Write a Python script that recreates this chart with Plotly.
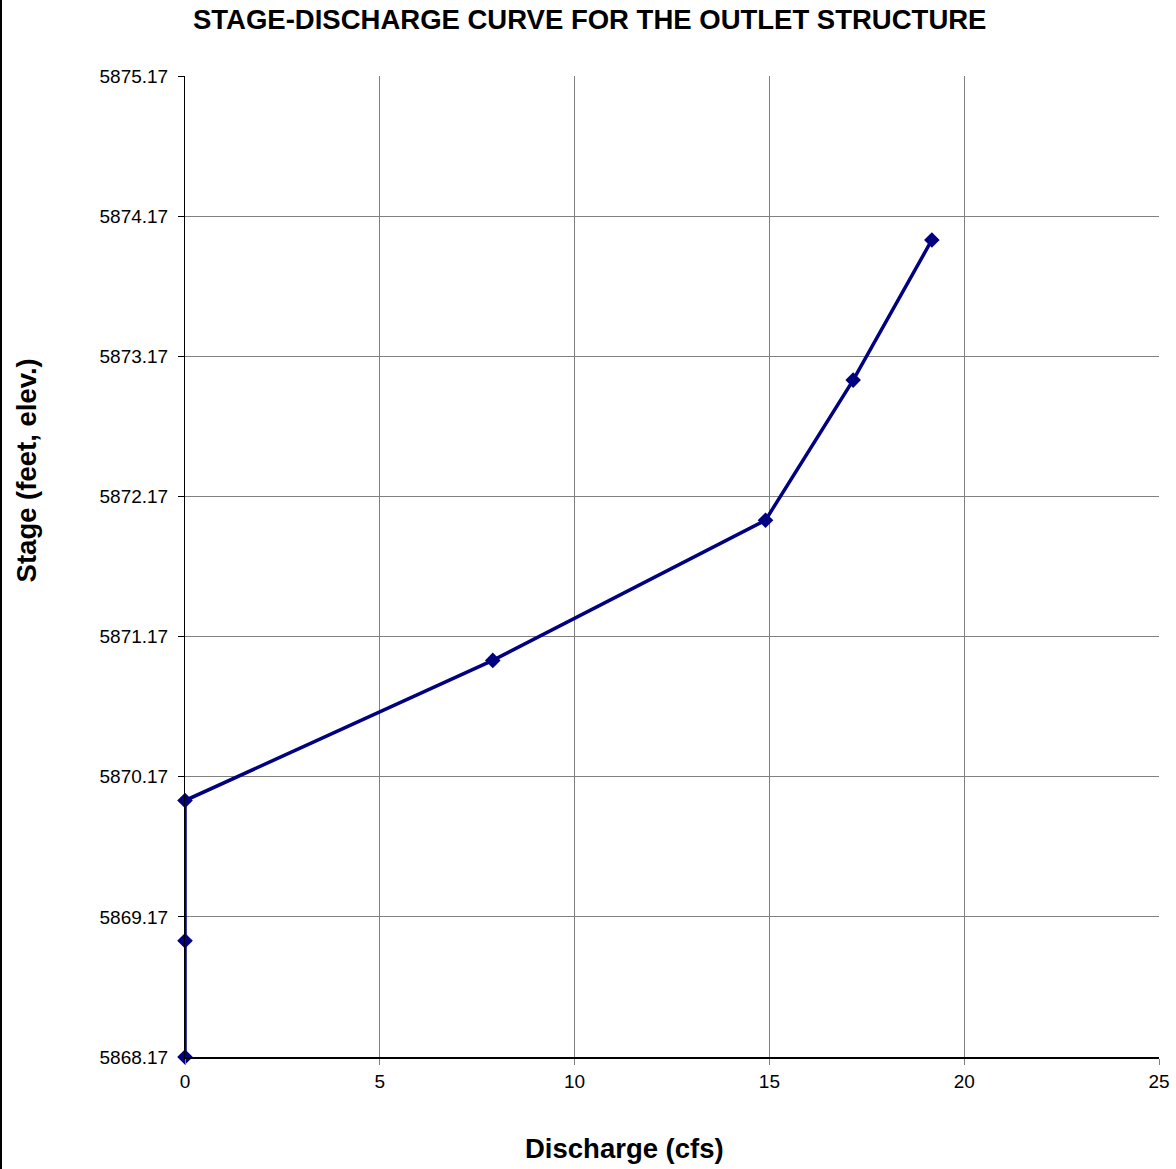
import plotly.graph_objects as go

discharge = [0, 0, 0, 7.9, 14.9, 17.15, 19.17]
stage = [5868.17, 5869.0, 5870.0, 5871.0, 5872.0, 5873.0, 5874.0]

y_ticks = [5868.17, 5869.17, 5870.17, 5871.17, 5872.17, 5873.17, 5874.17, 5875.17]
x_ticks = [0, 5, 10, 15, 20, 25]

navy = "#000080"
font_family = "Liberation Sans, Arial, sans-serif"

fig = go.Figure(go.Scatter(
    x=discharge, y=stage,
    mode="lines+markers",
    line=dict(color=navy, width=3.5),
    marker=dict(symbol="diamond", size=12, color=navy),
    cliponaxis=False,
))

fig.update_layout(
    width=1176, height=1169,
    margin=dict(l=185, r=17, t=76, b=112),
    paper_bgcolor="white", plot_bgcolor="white",
    font=dict(family=font_family, color="black", size=19),
    showlegend=False,
)

fig.update_xaxes(
    range=[0, 25], tickvals=x_ticks, ticktext=[str(v) for v in x_ticks],
    showgrid=True, gridcolor="#808080", gridwidth=1,
    showline=True, linecolor="black", linewidth=2,
    ticks="outside", ticklen=6, tickcolor="#808080",
    zeroline=False, automargin=False,
)
fig.update_yaxes(
    range=[5868.17, 5875.17], tickvals=y_ticks, ticktext=["%.2f" % v for v in y_ticks],
    showgrid=True, gridcolor="#808080", gridwidth=1,
    showline=True, linecolor="black", linewidth=1,
    ticks="outside", ticklen=6, tickcolor="black",
    ticklabelstandoff=6,
    zeroline=False, automargin=False,
)

# titles placed like the Excel chart (centred on the chart area, not the plot area)
fig.add_annotation(text="<b>STAGE-DISCHARGE CURVE FOR THE OUTLET STRUCTURE</b>",
                   xref="paper", yref="paper", x=0.4158, y=1.0571,
                   xanchor="center", yanchor="middle", showarrow=False,
                   font=dict(size=27.5))
fig.add_annotation(text="<b>Discharge (cfs)</b>",
                   xref="paper", yref="paper", x=0.4517, y=-0.0928,
                   xanchor="center", yanchor="middle", showarrow=False,
                   font=dict(size=27.5))
fig.add_annotation(text="<b>Stage (feet, elev.)</b>", textangle=-90,
                   xref="paper", yref="paper", x=-0.1632, y=0.598,
                   xanchor="center", yanchor="middle", showarrow=False,
                   font=dict(size=27.5))

# outer frame edge on the left side of the page
fig.add_shape(type="line", xref="paper", yref="paper",
              x0=-184 / 974, x1=-184 / 974, y0=-112 / 981, y1=1 + 76 / 981,
              line=dict(color="black", width=2))

fig.write_html("out.html", config={"displayModeBar": False},
               post_script="document.body.style.margin='0';")
